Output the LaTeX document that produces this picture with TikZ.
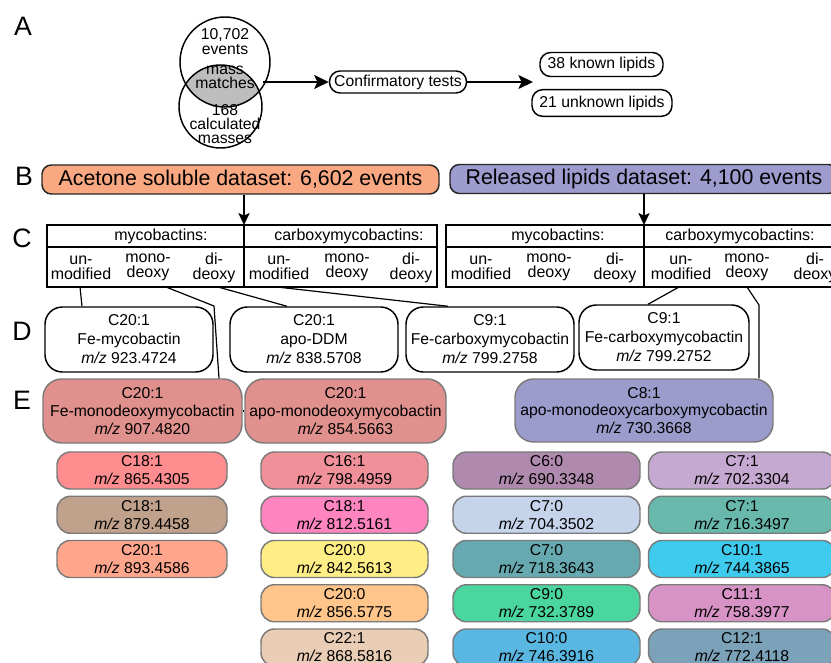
\documentclass[tikz,border=0pt]{standalone}
\usepackage{fontspec}
\setmainfont{Liberation Sans}
\usetikzlibrary{arrows.meta}
\definecolor{acetC}{HTML}{F9A882}
\definecolor{relC}{HTML}{9E9BCF}
\definecolor{eRed}{HTML}{E0918E}
\definecolor{eBlue}{HTML}{9C9CCC}
\definecolor{lensC}{HTML}{BDBDBD}
\definecolor{bordC}{HTML}{7A7A7A}
\definecolor{fa}{HTML}{FF8C8E}
\definecolor{fb}{HTML}{C0A28C}
\definecolor{fc}{HTML}{FFA68C}
\definecolor{fd}{HTML}{F0919A}
\definecolor{fe}{HTML}{FF85C1}
\definecolor{ff}{HTML}{FFED86}
\definecolor{fg}{HTML}{FFC58A}
\definecolor{fh}{HTML}{E9CDB5}
\definecolor{fi}{HTML}{B08AAE}
\definecolor{fj}{HTML}{C5D3EB}
\definecolor{fk}{HTML}{66A9B0}
\definecolor{fl}{HTML}{4BD6A0}
\definecolor{fm}{HTML}{59B7E1}
\definecolor{fn}{HTML}{C6A9D1}
\definecolor{fo}{HTML}{68B8AC}
\definecolor{fp}{HTML}{3FCBEE}
\definecolor{fq}{HTML}{D893C6}
\definecolor{fr}{HTML}{7BA2B8}
\begin{document}
\begin{tikzpicture}[x=0.75pt,y=-0.75pt,
  letter/.style={font=\fontsize{20}{24}\selectfont, inner sep=0},
  vtxt/.style={font=\fontsize{11.8}{10.7}\selectfont, align=center, inner sep=0},
  pill/.style={draw, line width=1.1pt, rounded corners=8pt, inner sep=0, font=\fontsize{11.8}{14}\selectfont},
  dsbox/.style={draw=black!85, line width=1.1pt, rounded corners=7pt, inner sep=0, minimum height=21.75pt, font=\fontsize{16}{19}\selectfont},
  dbox/.style={draw, line width=1.1pt, rounded corners=13pt, minimum width=126pt, minimum height=48.75pt, align=center, inner sep=0, font=\fontsize{11.8}{14.2}\selectfont},
  ebox/.style={draw=bordC, line width=1.1pt, rounded corners=14pt, minimum height=48pt, align=center, inner sep=0, font=\fontsize{11.8}{13.2}\selectfont},
  lipbox/.style={draw=bordC, line width=1.1pt, rounded corners=10pt, minimum height=27.75pt, align=center, inner sep=0, font=\fontsize{11.8}{13.6}\selectfont},
  ttxt/.style={font=\fontsize{12}{11.3}\selectfont, align=center, inner sep=0},
  tbl/.style={draw, line width=1.6pt, inner sep=0},
  arr/.style={-{Stealth[length=11pt,width=10.5pt,inset=2.5pt]}, line width=1.1pt},
  sarr/.style={-{Stealth[length=9pt,width=8.5pt,inset=2pt]}, line width=1.1pt},
  conn/.style={line width=0.9pt}
]
\useasboundingbox (0,0) rectangle (831,663);
\clip (0,0) rectangle (831,663);

% panel letters
\node[letter] (lA) at (23,26) {A};
\node[letter] (lB) at (24,176) {B};
\node[letter] (lC) at (22,238) {C};
\node[letter] (lD) at (22,331) {D};
\node[letter] (lE) at (22,400) {E};

% Venn
\begin{scope}
  \clip (225,62) circle[radius=45];
  \fill[lensC] (220.5,106.5) circle[radius=41.5];
\end{scope}
\node[circle, draw, line width=1.1pt, minimum size=67.5pt, inner sep=0] (vtop) at (225,62) {};
\node[circle, draw, line width=1.1pt, minimum size=62.25pt, inner sep=0] (vbot) at (220.5,106.5) {};
\node[vtxt] (vt1) at (225,41.5) {10,702\\events};
\node[vtxt] (vt2) at (225,77.5) {mass\\matches};
\node[vtxt] (vt3) at (225,124) {168\\calculated\\masses};
\coordinate (lensR) at (263,82);

\node[pill, minimum width=102.75pt, minimum height=16.5pt] (conf) at (398,82) {Confirmatory tests};
\draw[arr] (lensR) -- (conf.west);
\coordinate (outArr) at (533,82);
\draw[arr] (conf.east) -- (outArr);
\node[pill, minimum width=92.25pt, minimum height=18pt] (known) at (601.5,64.5) {38 known lipids};
\node[pill, minimum width=105pt, minimum height=20pt] (unknown) at (602,103) {21 unknown lipids};

% datasets
\node[dsbox, fill=acetC, minimum width=297.75pt] (acet) at (240.5,179.5) {Acetone soluble dataset: 6,602 events};
\node[dsbox, fill=relC, minimum width=291pt] (rel) at (644,179) {Released lipids dataset: 4,100 events};

% tables
\node[tbl, minimum width=292.5pt, minimum height=46.5pt] (tL) at (242,256) {};
\draw[line width=0.9pt] (47,247) -- (437,247);
\draw[line width=0.9pt] (244,225) -- (244,287);
\node[tbl, minimum width=295.5pt, minimum height=46.5pt] (tR) at (643,256) {};
\draw[line width=0.9pt] (446,247) -- (840,247);
\draw[line width=0.9pt] (644,225) -- (644,287);

\coordinate (tLtop) at (244,225);
\coordinate (tRtop) at (644,225);
\draw[sarr] (acet.south -| tLtop) -- (tLtop);
\draw[sarr] (rel.south -| tRtop) -- (tRtop);

\node[ttxt] (hL1) at (161,236) {mycobactins:};
\node[ttxt] (hL2) at (349,236) {carboxymycobactins:};
\node[ttxt] (hR1) at (558,236) {mycobactins:};
\node[ttxt] (hR2) at (740,236) {carboxymycobactins:};

\node[ttxt] (sL1) at (81,267.5) {un-\\modified};
\node[ttxt] (sL2) at (148,267.5) {mono-\\deoxy};
\node[ttxt] (sL3) at (214,267.5) {di-\\deoxy};
\node[ttxt] (sL4) at (279,267.5) {un-\\modified};
\node[ttxt] (sL5) at (347,267.5) {mono-\\deoxy};
\node[ttxt] (sL6) at (411,267.5) {di-\\deoxy};
\node[ttxt] (sR1) at (481,267.5) {un-\\modified};
\node[ttxt] (sR2) at (549,267.5) {mono-\\deoxy};
\node[ttxt] (sR3) at (615,267.5) {di-\\deoxy};
\node[ttxt] (sR4) at (681,267.5) {un-\\modified};
\node[ttxt] (sR5) at (747,267.5) {mono-\\deoxy};
\node[ttxt] (sR6) at (815,267.5) {di-\\deoxy};

% D row
\node[dbox] (D1) at (129,339.5) {C20:1\\Fe-mycobactin\\\textit{m/z} 923.4724};
\node[dbox] (D2) at (314,339.5) {C20:1\\apo-DDM\\\textit{m/z} 838.5708};
\node[dbox] (D3) at (490,339.5) {C9:1\\Fe-carboxymycobactin\\\textit{m/z} 799.2758};
\node[dbox, minimum width=127.5pt] (D4) at (664,337.5) {C9:1\\Fe-carboxymycobactin\\\textit{m/z} 799.2752};

% E row
\node[ebox, fill=eRed, minimum width=149.25pt] (E1) at (142.5,411) {C20:1\\Fe-monodeoxymycobactin\\\textit{m/z} 907.4820};
\node[ebox, fill=eRed, minimum width=150.75pt] (E2) at (345.5,411) {C20:1\\apo-monodeoxymycobactin\\\textit{m/z} 854.5663};
\node[ebox, fill=eBlue, minimum width=193.5pt, minimum height=47.25pt] (E3) at (644,410.5) {C8:1\\apo-monodeoxycarboxymycobactin\\\textit{m/z} 730.3668};
\draw[conn] (E1.east) -- (E2.west);

% connectors C -> D/E
\coordinate (c1) at (80,287);
\coordinate (c1e) at (82,0);
\draw[conn] (c1) -- (c1e |- D1.north);
\coordinate (c2) at (166,287);
\coordinate (c2k) at (214,306);
\coordinate (c2e) at (219,0);
\draw[conn] (c2) -- (c2k) -- (c2e |- E1.north);
\coordinate (c3) at (218,287);
\coordinate (c3e) at (287,0);
\draw[conn] (c3) -- (c3e |- D2.north);
\coordinate (c4) at (277,287);
\coordinate (c4e) at (448,0);
\draw[conn] (c4) -- (c4e |- D3.north);
\coordinate (c5) at (679,287);
\coordinate (c5e) at (648,0);
\draw[conn] (c5) -- (c5e |- D4.north);
\coordinate (c6) at (747,287);
\coordinate (c6k) at (759,305);
\draw[conn] (c6) -- (c6k) -- (c6k |- E3.north);

% lipid boxes column 1
\node[lipbox, fill=fa, minimum width=127.5pt] (F11) at (142,470.5) {C18:1\\\textit{m/z} 865.4305};
\node[lipbox, fill=fb, minimum width=127.5pt] (F12) at (142,514.75) {C18:1\\\textit{m/z} 879.4458};
\node[lipbox, fill=fc, minimum width=127.5pt] (F13) at (142,559) {C20:1\\\textit{m/z} 893.4586};
% column 2
\node[lipbox, fill=fd, minimum width=125.25pt] (F21) at (344.5,470.5) {C16:1\\\textit{m/z} 798.4959};
\node[lipbox, fill=fe, minimum width=125.25pt] (F22) at (344.5,514.75) {C18:1\\\textit{m/z} 812.5161};
\node[lipbox, fill=ff, minimum width=125.25pt] (F23) at (344.5,559) {C20:0\\\textit{m/z} 842.5613};
\node[lipbox, fill=fg, minimum width=125.25pt] (F24) at (344.5,603.25) {C20:0\\\textit{m/z} 856.5775};
\node[lipbox, fill=fh, minimum width=125.25pt] (F25) at (344.5,647.5) {C22:1\\\textit{m/z} 868.5816};
% column 3
\node[lipbox, fill=fi, minimum width=140.25pt] (F31) at (546.5,470.5) {C6:0\\\textit{m/z} 690.3348};
\node[lipbox, fill=fj, minimum width=140.25pt] (F32) at (546.5,514.75) {C7:0\\\textit{m/z} 704.3502};
\node[lipbox, fill=fk, minimum width=140.25pt] (F33) at (546.5,559) {C7:0\\\textit{m/z} 718.3643};
\node[lipbox, fill=fl, minimum width=140.25pt] (F34) at (546.5,603.25) {C9:0\\\textit{m/z} 732.3789};
\node[lipbox, fill=fm, minimum width=140.25pt] (F35) at (546.5,647.5) {C10:0\\\textit{m/z} 746.3916};
% column 4
\node[lipbox, fill=fn, minimum width=140.25pt] (F41) at (742,470.5) {C7:1\\\textit{m/z} 702.3304};
\node[lipbox, fill=fo, minimum width=140.25pt] (F42) at (742,514.75) {C7:1\\\textit{m/z} 716.3497};
\node[lipbox, fill=fp, minimum width=140.25pt] (F43) at (742,559) {C10:1\\\textit{m/z} 744.3865};
\node[lipbox, fill=fq, minimum width=140.25pt] (F44) at (742,603.25) {C11:1\\\textit{m/z} 758.3977};
\node[lipbox, fill=fr, minimum width=140.25pt] (F45) at (742,647.5) {C12:1\\\textit{m/z} 772.4118};
\end{tikzpicture}
\end{document}
